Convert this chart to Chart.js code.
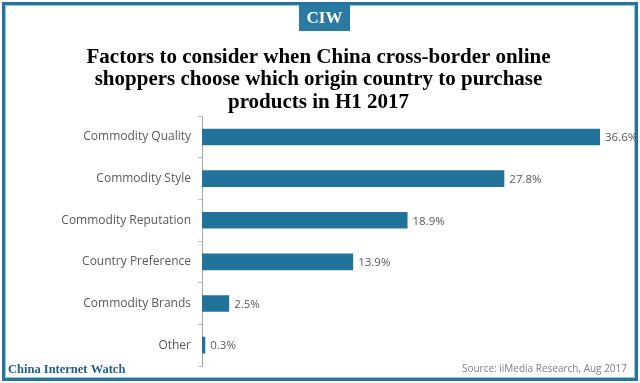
<!DOCTYPE html>
<html>
<head>
<meta charset="utf-8">
<script src="https://cdn.jsdelivr.net/npm/chart.js@4"></script>
<style>
html,body{margin:0;padding:0;background:#fff;}
#wrap{width:640px;height:383px;}
</style>
</head>
<body>
<div id="wrap"><canvas id="c" width="640" height="383"></canvas></div>
<script>
const categories = ["Commodity Quality","Commodity Style","Commodity Reputation","Country Preference","Commodity Brands","Other"];
const shares = [36.6, 27.8, 18.9, 13.9, 2.5, 0.3];
const valueLabels = ["36.6%","27.8%","18.9%","13.9%","2.5%","0.3%"];
const titleLines = ["Factors to consider when China cross-border online","shoppers choose which origin country to purchase","products in H1 2017"];
const brandText = "CIW";
const footerLeft = "China Internet Watch";
const footerRight = "Source: iiMedia Research, Aug 2017";

const BAR = "#21739a";
const LABEL = "#595959";

const decor = {
  id: "decor",
  beforeDraw(chart) {
    const ctx = chart.ctx;
    ctx.save();
    ctx.fillStyle = "#fff";
    ctx.fillRect(0, 0, chart.width, chart.height);
    ctx.restore();
  },
  afterDraw(chart) {
    const ctx = chart.ctx;
    ctx.save();
    // frame
    ctx.strokeStyle = "#2474a0";
    ctx.lineWidth = 3;
    ctx.strokeRect(3.5, 3.5, 633, 376);
    ctx.strokeStyle = "#9cc4da";
    ctx.lineWidth = 1;
    ctx.strokeRect(5.5, 5.5, 629, 372);
    // CIW box
    ctx.fillStyle = "#2a7aa3";
    ctx.fillRect(299, 5, 51, 26);
    ctx.fillStyle = "#fff";
    ctx.font = "bold 17px 'Liberation Serif', serif";
    ctx.textAlign = "center";
    ctx.textBaseline = "middle";
    ctx.fillText(brandText, 324.5, 19);
    // footer
    ctx.fillStyle = "#1f5f8b";
    ctx.font = "bold 12.5px 'Liberation Serif', serif";
    ctx.textAlign = "left";
    ctx.fillText(footerLeft, 8, 370);
    ctx.fillStyle = "#7f7f7f";
    ctx.font = "10px 'Open Sans', sans-serif";
    ctx.textAlign = "right";
    ctx.fillText(footerRight, 627, 369);
    // value labels
    const meta = chart.getDatasetMeta(0);
    ctx.fillStyle = LABEL;
    ctx.font = "11.5px 'Open Sans', sans-serif";
    ctx.textAlign = "left";
    meta.data.forEach((bar, i) => {
      ctx.fillText(valueLabels[i], bar.x + 5, bar.y + 1);
    });
    ctx.restore();
  }
};

new Chart(document.getElementById("c"), {
  type: "bar",
  data: {
    labels: categories,
    datasets: [{
      data: shares,
      backgroundColor: BAR,
      borderWidth: 0,
      categoryPercentage: 1,
      barPercentage: 0.4
    }]
  },
  options: {
    indexAxis: "y",
    responsive: false,
    animation: false,
    devicePixelRatio: 1,
    layout: { padding: { top: 0, bottom: 17, left: 0, right: 3 } },
    plugins: {
      legend: { display: false },
      tooltip: { enabled: false },
      title: {
        display: true,
        text: titleLines,
        color: "#000",
        font: { family: "'Liberation Serif', serif", size: 21, weight: "bold", lineHeight: 1.05 },
        padding: { top: 47, bottom: 3 }
      }
    },
    scales: {
      x: { display: false, min: 0, max: 40 },
      y: {
        afterFit(scale) { scale.width = 202; },
        grid: { drawOnChartArea: false, drawTicks: true, tickLength: 4, color: "#bfbfbf", offset: true },
        border: { display: true, color: "#a6a6a6", width: 1 },
        ticks: { color: LABEL, padding: 7, font: { family: "'Open Sans', sans-serif", size: 12 } }
      }
    }
  },
  plugins: [decor]
});
</script>
</body>
</html>
